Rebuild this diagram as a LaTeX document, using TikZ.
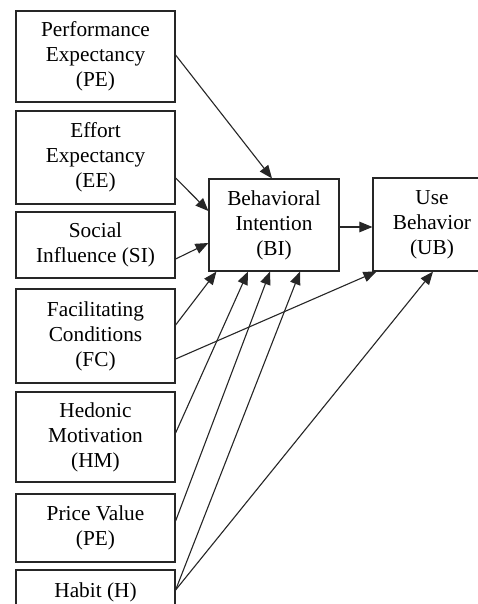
\documentclass[tikz,border=0pt]{standalone}
\usepackage{fontspec}
\setmainfont{Liberation Serif}
\usetikzlibrary{arrows.meta}
\begin{document}
\begin{tikzpicture}[x=1pt,y=-1pt,
  box/.style={draw=black!85, line width=1.2pt, fill=white, align=center,
    font=\fontsize{21.3pt}{25pt}\selectfont, inner sep=0pt, text=black},
  lbox/.style={box, minimum width=159pt},
  conn/.style={draw=black!85, line width=1.1pt, -{Triangle[length=13pt,width=10.5pt]}}]
\clip (0,0) rectangle (478,604);
\fill[white] (0,0) rectangle (478,604);
\node[lbox, minimum height=91pt] (pe) at (95.5,56.5) {Performance\\Expectancy\\(PE)};
\node[lbox, minimum height=93pt] (ee) at (95.5,157.5) {Effort\\Expectancy\\(EE)};
\node[lbox, minimum height=66pt] (si) at (95.5,245) {Social\\Influence (SI)};
\node[lbox, minimum height=94pt] (fc) at (95.5,336) {Facilitating\\Conditions\\(FC)};
\node[lbox, minimum height=90pt] (hm) at (95.5,437) {Hedonic\\Motivation\\(HM)};
\node[lbox, minimum height=68pt] (pv) at (95.5,528) {Price Value\\(PE)};
\node[lbox, minimum height=45pt] (h) at (95.5,592.5) {Habit (H)};
\node[box, minimum width=130pt, minimum height=92pt] (bi) at (274,225) {Behavioral\\Intention\\(BI)};
\node[box, minimum width=118pt, minimum height=93pt] (ub) at (432,224.5) {Use\\Behavior\\(UB)};

\draw[conn] ([yshift=1.5pt]pe.east) -- ([xshift=-2pt]bi.north);
\draw[conn] ([yshift=-20.5pt]ee.east) -- ([yshift=14pt]bi.west);
\draw[conn] ([yshift=-14pt]si.east) -- ([yshift=-18pt]bi.west);
\draw[conn] ([yshift=11pt]fc.east) -- ([xshift=8pt]bi.south west);
\draw[conn] ([yshift=-23pt]fc.east) -- ([xshift=4pt]ub.south west);
\draw[conn] ([yshift=4pt]hm.east) -- ([xshift=-26pt]bi.south);
\draw[conn] ([yshift=7pt]pv.east) -- ([xshift=-4pt]bi.south);
\draw[conn] ([yshift=2.5pt]h.east) -- ([xshift=26pt]bi.south);
\draw[conn] ([yshift=2.5pt]h.east) -- ([xshift=1pt]ub.south);
\draw[conn] ([yshift=-2pt]bi.east) -- ([yshift=-2pt]bi.east -| ub.west);
\end{tikzpicture}
\end{document}
